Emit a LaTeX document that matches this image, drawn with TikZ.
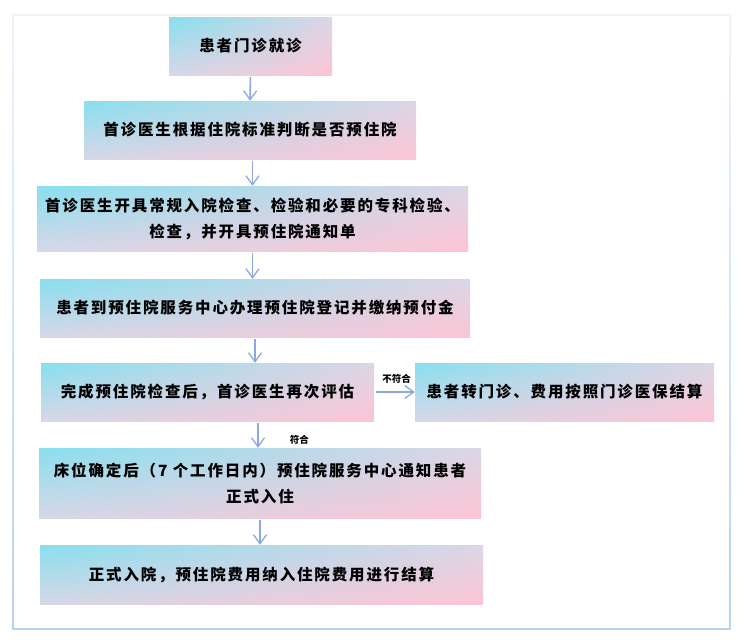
\documentclass[tikz,border=0pt]{standalone}
\usepackage{fontspec}
\newfontfamily\cjk[LetterSpace=12]{Noto Sans CJK SC}
\newfontfamily\cjktag{Noto Sans CJK SC}
\usetikzlibrary{arrows.meta,shadings}
\definecolor{stagecyan}{HTML}{88DFEE}
\definecolor{stagelav}{HTML}{DCD6E6}
\definecolor{stagelow}{HTML}{D6D8E8}
\definecolor{stagepink}{HTML}{FDC4D4}
\definecolor{flowblue}{HTML}{8AA9E3}
\definecolor{frametop}{HTML}{EEF4FC}
\definecolor{framemid}{HTML}{6F90D6}
\definecolor{framebot}{HTML}{B6D3EE}
\tikzset{
  stage/.style={upper left=stagecyan,upper right=stagelav,lower left=stagelow,
    lower right=stagepink,inner sep=0pt,align=center,
    font=\cjk\bfseries\fontsize{15.5}{26}\selectfont},
  flow/.style={draw=flowblue,line width=1.6pt,shorten <=2pt,
    -{Straight Barb[length=9pt,width=13pt,line width=1.3pt]}},
  tag/.style={font=\cjktag\bfseries\fontsize{9.5}{11}\selectfont,inner sep=1pt}
}
\begin{document}
\begin{tikzpicture}
[x=1pt,y=-1pt]
\useasboundingbox (0,0) rectangle (745,640);
\shade[top color=frametop,middle color=framemid,bottom color=framebot] (12,14) rectangle (730.5,629.5);
\fill[white] (14,16) rectangle (728.5,627.5);
\node[stage,minimum width=163pt,minimum height=58pt] (visit) at (250.5,46) {患者门诊就诊};
\node[stage,minimum width=332pt,minimum height=58pt] (judge) at (250,130) {首诊医生根据住院标准判断是否预住院};
\node[stage,minimum width=431pt,minimum height=65pt] (order) at (252.5,218.5)
  {首诊医生开具常规入院检查、检验和必要的专科检验、\\检查，并开具预住院通知单};
\node[stage,minimum width=430pt,minimum height=58pt] (register) at (255,308) {患者到预住院服务中心办理预住院登记并缴纳预付金};
\node[stage,minimum width=333pt,minimum height=58pt] (review) at (207.5,392) {完成预住院检查后，首诊医生再次评估};
\node[stage,minimum width=299pt,minimum height=58pt] (clinic) at (564.5,392) {患者转门诊、费用按照门诊医保结算};
\node[stage,minimum width=442pt,minimum height=70pt] (bed) at (260,483)
  {床位确定后（7 个工作日内）预住院服务中心通知患者\\正式入住};
\node[stage,minimum width=443pt,minimum height=59pt] (admit) at (261.5,574.5) {正式入院，预住院费用纳入住院费用进行结算};
\draw[flow] (visit.south) -- (judge.north);
\draw[flow] (judge.south -| order.north) -- (order.north);
\draw[flow] (order.south) -- (order.south |- register.north);
\draw[flow] (register.south) -- (register.south |- review.north);
\draw[flow] (review.south -| bed.north) ++(-2,0) coordinate (fork) -- (fork |- bed.north)
  node[tag,pos=0.7,right=30pt] (pass) {符合};
\draw[flow] (review.east) -- (clinic.west)
  node[tag,pos=0.55,above=7pt] (fail) {不符合};
\draw[flow] (bed.south) -- (bed.south |- admit.north);
\end{tikzpicture}
\end{document}
